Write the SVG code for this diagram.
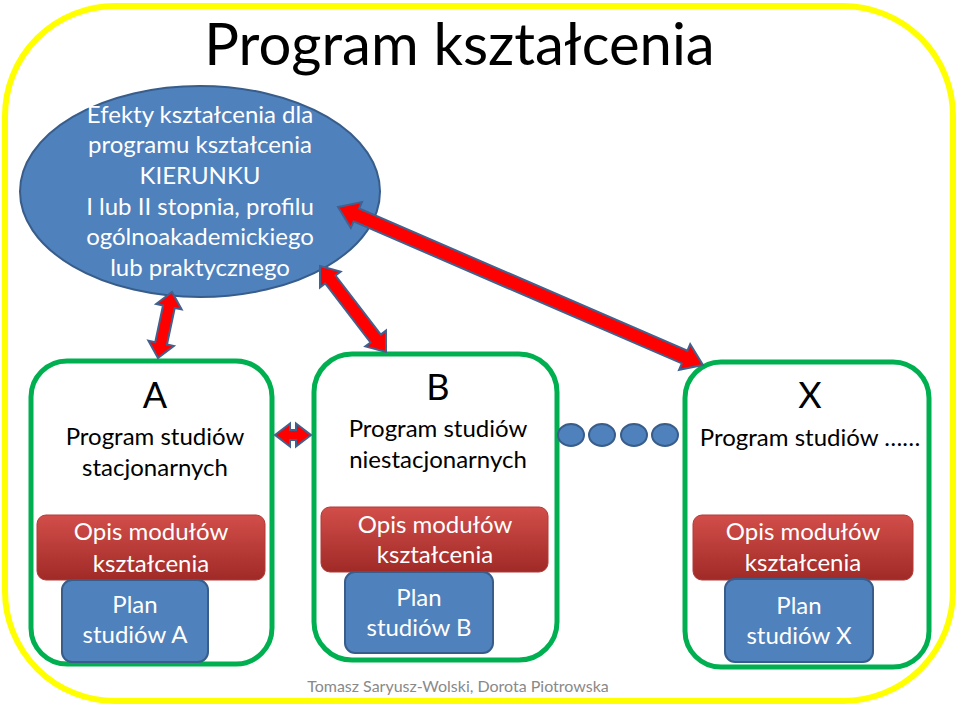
<svg xmlns="http://www.w3.org/2000/svg" width="960" height="708" viewBox="0 0 960 708">
<defs>
<linearGradient id="redg" x1="0" y1="0" x2="0" y2="1">
<stop offset="0" stop-color="#D24E4A"/>
<stop offset="1" stop-color="#A02A27"/>
</linearGradient>
<style>
text{font-family:Lato,"Liberation Sans",sans-serif;text-anchor:middle}
.frame{fill:#FFFFFF;stroke:#FFFF00;stroke-width:6}
.grn{fill:#FFFFFF;stroke:#00B050;stroke-width:5}
.red{fill:url(#redg);stroke:#B23A37;stroke-width:1}
.blu{fill:#4F81BD;stroke:#385D8A;stroke-width:2}
.arr{fill:#FF0000;stroke:#41618F;stroke-width:2;stroke-linejoin:miter}
.w{fill:#FFFFFF;font-size:24px}
.k{fill:#000000;font-size:24px}
.big{fill:#000000;font-size:36px}
</style>
</defs>
<rect class="frame" x="5" y="6" width="948" height="695" rx="110" ry="110"/>
<text x="459.5" y="65" style="font-size:58px;fill:#000">Program kształcenia</text>

<g id="efekty">
<ellipse cx="200" cy="191.5" rx="180" ry="105.5" fill="#4F81BD" stroke="#385D8A" stroke-width="2"/>
<text class="w" x="200" y="123">Efekty kształcenia dla</text>
<text class="w" x="200" y="153">programu kształcenia</text>
<text class="w" x="200" y="184">KIERUNKU</text>
<text class="w" x="200" y="215">I lub II stopnia, profilu</text>
<text class="w" x="200" y="245">ogólnoakademickiego</text>
<text class="w" x="200" y="276">lub praktycznego</text>
</g>

<g id="programA">
<rect class="grn" x="31" y="361" width="241" height="303" rx="36"/>
<text class="big" x="155" y="408">A</text>
<text class="k" x="155" y="445">Program studiów</text>
<text class="k" x="155" y="476">stacjonarnych</text>
<rect class="red" x="37" y="515" width="228" height="65" rx="9"/>
<text class="w" x="151" y="540">Opis modułów</text>
<text class="w" x="151" y="572">kształcenia</text>
<rect class="blu" x="62" y="580" width="146" height="82" rx="10"/>
<text class="w" x="135" y="613">Plan</text>
<text class="w" x="135" y="643">studiów A</text>
</g>

<g id="programB">
<rect class="grn" x="314" y="354" width="243" height="306" rx="38"/>
<text class="big" x="438" y="400">B</text>
<text class="k" x="438" y="437">Program studiów</text>
<text class="k" x="438" y="468">niestacjonarnych</text>
<rect class="red" x="321" y="507" width="227" height="65" rx="9"/>
<text class="w" x="435" y="533">Opis modułów</text>
<text class="w" x="435" y="563">kształcenia</text>
<rect class="blu" x="345" y="572" width="148" height="81" rx="10"/>
<text class="w" x="419" y="606">Plan</text>
<text class="w" x="419" y="636">studiów B</text>
</g>

<g id="programX">
<rect class="grn" x="685" y="362" width="244" height="305" rx="36"/>
<text class="big" x="810" y="408">X</text>
<text class="k" x="810" y="446">Program studiów ……</text>
<rect class="red" x="693" y="515" width="220" height="65" rx="9"/>
<text class="w" x="803" y="540">Opis modułów</text>
<text class="w" x="803" y="571">kształcenia</text>
<rect class="blu" x="725" y="579" width="148" height="83" rx="10"/>
<text class="w" x="799" y="614">Plan</text>
<text class="w" x="799" y="644">studiów X</text>
</g>

<g id="dots">
<ellipse class="blu" cx="571" cy="435" rx="13" ry="11"/>
<ellipse class="blu" cx="602" cy="435" rx="13" ry="11"/>
<ellipse class="blu" cx="634" cy="435" rx="13" ry="11"/>
<ellipse class="blu" cx="665" cy="435" rx="13" ry="11"/>
</g>

<g id="connectors">
<polygon class="arr" transform="translate(172,292) rotate(101.98)" points="0,0 15,-13 15,-6 52.5,-6 52.5,-13 67.5,0 52.5,13 52.5,6 15,6 15,13"/>
<polygon class="arr" transform="translate(320,266) rotate(52.5)" points="0,0 17,-13 17,-6.5 91.4,-6.5 91.4,-13 108.4,0 91.4,13 91.4,6.5 17,6.5 17,13"/>
<polygon class="arr" transform="translate(338,207) rotate(23.4)" points="0,0 20,-14 20,-7 377.7,-7 377.7,-14 397.7,0 377.7,14 377.7,7 20,7 20,14"/>
<polygon class="arr" transform="translate(275,435)" points="0,0 15,-11.5 15,-5 21,-5 21,-11.5 36,0 21,11.5 21,5 15,5 15,11.5"/>
</g>

<text x="458" y="692" style="font-size:16px;fill:#898989">Tomasz Saryusz-Wolski, Dorota Piotrowska</text>
</svg>
